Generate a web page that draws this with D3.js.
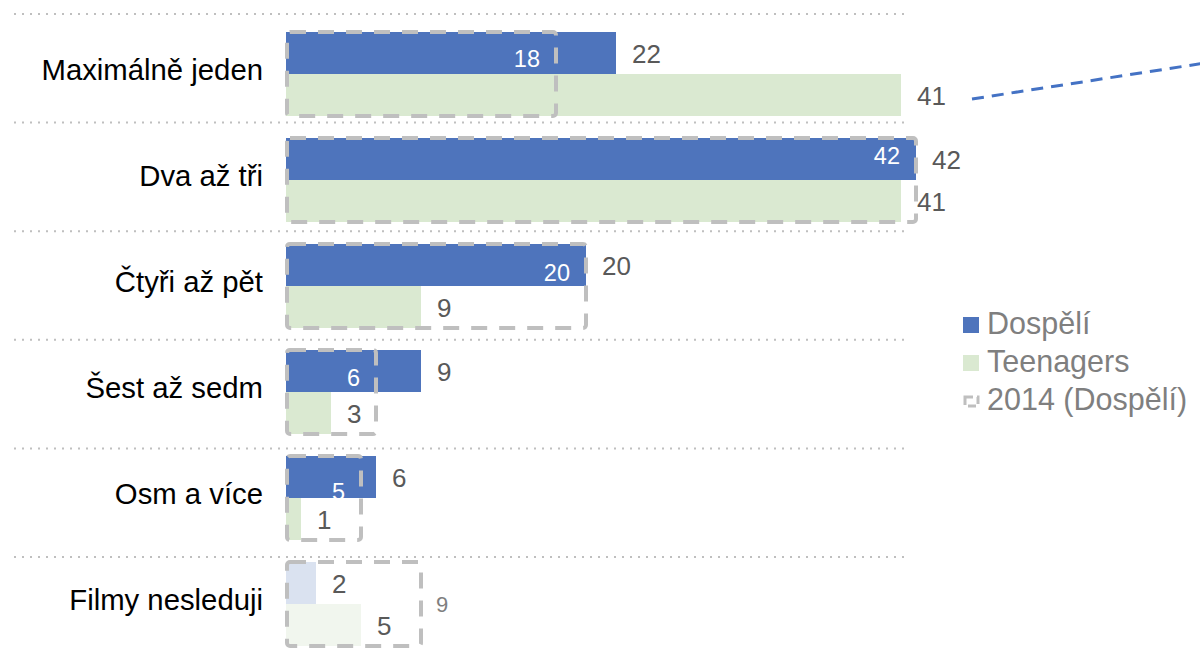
<!DOCTYPE html>
<html lang="cs">
<head>
<meta charset="utf-8">
<script src="https://cdn.jsdelivr.net/npm/d3@7"></script>
<style>
  html, body { margin: 0; padding: 0; background: #fff; }
  svg { display: block; font-family: "Liberation Sans", Arial, sans-serif; }
</style>
</head>
<body>
<svg id="chart" width="1200" height="663"></svg>
<script>
// Počet zhlédnutých filmů – dospělí vs. teenageři, se srovnáním s rokem 2014
const categories = ["Maximálně jeden", "Dva až tři", "Čtyři až pět", "Šest až sedm", "Osm a více", "Filmy nesleduji"];
const adults = [22, 42, 20, 9, 6, 2];
const teens = [41, 41, 9, 3, 1, 5];
const adults2014 = [18, 42, 20, 6, 5, 9];
const seriesNames = ["Dospělí", "Teenagers", "2014 (Dospělí)"];
const mutedCategory = "Filmy nesleduji";

// vertical nudges for the 2014 labels placed inside the blue bars
const label2014Nudge = [5, -4, 7, 6, 14, 0];

const colors = {
  adults: "#4e74bc", teens: "#dae9d1",
  adultsMuted: "#dae2f0", teensMuted: "#f1f6ee",
  box: "#bfbfbf", grid: "#bfbfbf", value: "#595959", legend: "#7f7f7f"
};

const svg = d3.select("#chart");

const x = d3.scaleLinear().domain([0, 42]).range([286, 916]);

// bar groups: 84px tall on a 106px step
const y = d3.scaleBand().domain(categories)
  .range([21, 21 + 6 * 106]).paddingInner(22 / 106).paddingOuter(11 / 106);
// row separators
const ySep = d3.scaleBand().domain(categories).range([14, 14 + 6 * 108.6]);

const bw = y.bandwidth();
const half = bw / 2;

const rows = categories.map((c, i) => ({
  cat: c, i, a: adults[i], t: teens[i], p: adults2014[i], muted: c === mutedCategory
}));

// dotted separators
svg.append("g").selectAll("line").data(categories).join("line")
  .attr("x1", 14).attr("x2", 905)
  .attr("y1", d => ySep(d)).attr("y2", d => ySep(d))
  .attr("stroke", colors.grid).attr("stroke-width", 2)
  .attr("stroke-dasharray", "2,6");

// bars
const bars = svg.append("g");
bars.selectAll("rect.adults").data(rows).join("rect")
  .attr("class", "adults")
  .attr("x", x(0)).attr("y", d => y(d.cat))
  .attr("width", d => x(d.a) - x(0)).attr("height", half)
  .attr("fill", d => d.muted ? colors.adultsMuted : colors.adults);
bars.selectAll("rect.teens").data(rows).join("rect")
  .attr("class", "teens")
  .attr("x", x(0)).attr("y", d => y(d.cat) + half)
  .attr("width", d => x(d.t) - x(0)).attr("height", half)
  .attr("fill", d => d.muted ? colors.teensMuted : colors.teens);

// 2014 outlines
svg.append("g").selectAll("rect").data(rows).join("rect")
  .attr("x", x(0) + 1).attr("y", d => y(d.cat))
  .attr("width", d => x(d.p) - x(0) - 1).attr("height", bw)
  .attr("rx", 3).attr("ry", 3)
  .attr("fill", "none").attr("stroke", colors.box)
  .attr("stroke-width", 4).attr("stroke-dasharray", "16,12");

// category labels
svg.append("g").selectAll("text").data(rows).join("text")
  .attr("x", 263).attr("y", d => y(d.cat) + half + 6)
  .attr("text-anchor", "end").attr("font-size", 29.3).attr("fill", "#000")
  .text(d => d.cat);

// value labels
const vals = svg.append("g").attr("font-size", 26).attr("fill", colors.value);
vals.selectAll("text.a").data(rows).join("text")
  .attr("class", "a")
  .attr("x", d => x(d.a) + 16).attr("y", d => y(d.cat) + half / 2 + 9.5)
  .text(d => d.a);
vals.selectAll("text.t").data(rows).join("text")
  .attr("class", "t")
  .attr("x", d => x(d.t) + 16).attr("y", d => y(d.cat) + half * 1.5 + 9.5)
  .text(d => d.t);

// 2014 labels
svg.append("g").selectAll("text").data(rows).join("text")
  .attr("x", d => d.muted ? x(d.p) + 15 : x(d.p) - 16)
  .attr("y", d => d.muted ? y(d.cat) + half + 8 : y(d.cat) + half / 2 + 8.5 + label2014Nudge[d.i])
  .attr("text-anchor", d => d.muted ? "start" : "end")
  .attr("font-size", d => d.muted ? 22 : 23.5)
  .attr("fill", d => d.muted ? colors.legend : "#fff")
  .text(d => d.p);

// leader line toward the annotation on the right
svg.append("line")
  .attr("x1", 972).attr("y1", 99).attr("x2", 1205).attr("y2", 63)
  .attr("stroke", "#4472c4").attr("stroke-width", 3)
  .attr("stroke-dasharray", "12,8");

// legend
const legend = svg.append("g").attr("font-size", 30.5).attr("fill", colors.legend);
const legendRows = [
  { name: seriesNames[0], kind: "adults" },
  { name: seriesNames[1], kind: "teens" },
  { name: seriesNames[2], kind: "box" }
];
legendRows.forEach((d, i) => {
  const base = 334 + i * 38;
  if (d.kind === "box") {
    legend.append("rect")
      .attr("x", 965).attr("y", base - 13).attr("width", 13).attr("height", 9)
      .attr("fill", "none").attr("stroke", colors.box).attr("stroke-width", 3)
      .attr("stroke-dasharray", "8,4");
  } else {
    legend.append("rect")
      .attr("x", 963).attr("y", base - 17).attr("width", 16).attr("height", 16)
      .attr("fill", colors[d.kind]);
  }
  legend.append("text").attr("x", 987).attr("y", base).text(d.name);
});
</script>
</body>
</html>
